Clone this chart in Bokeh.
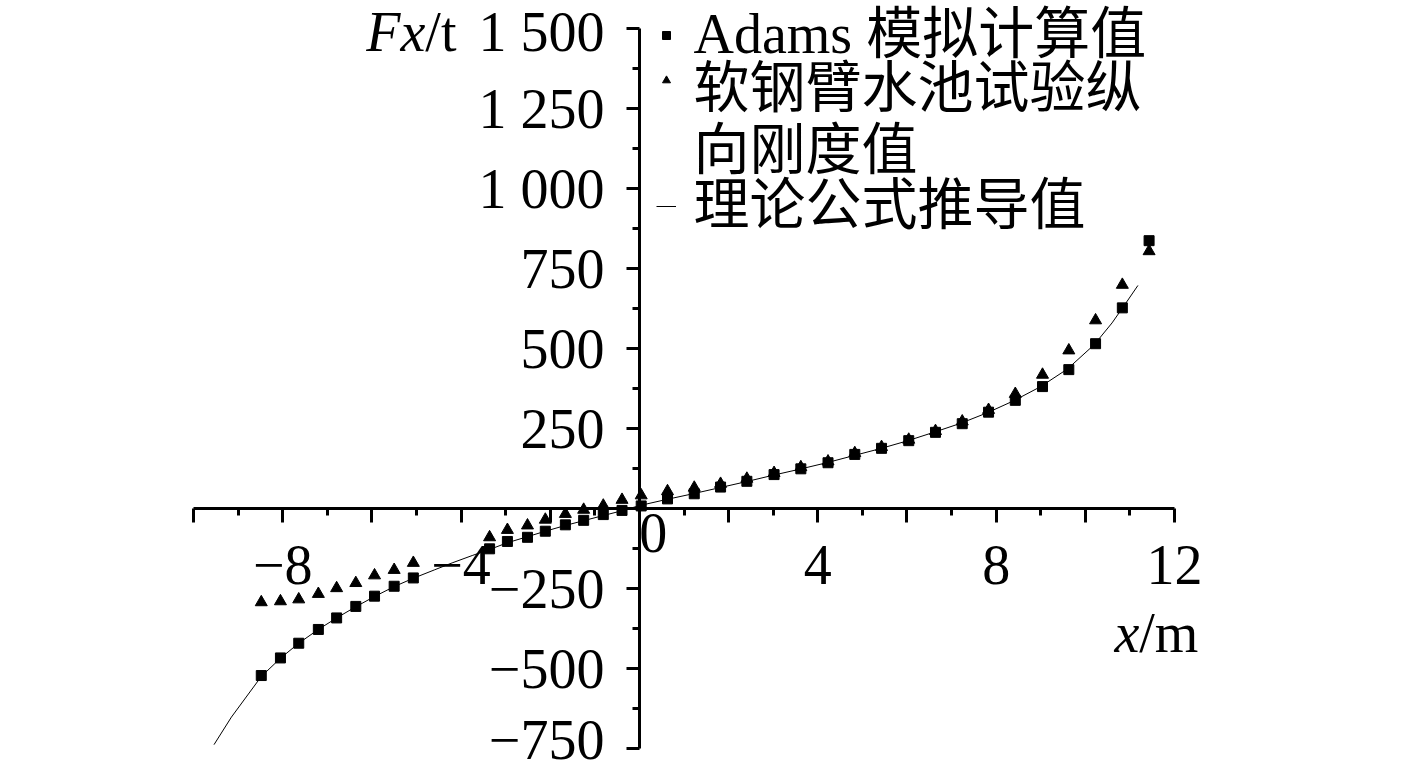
from bokeh.plotting import figure
from bokeh.models import (Range1d, FixedTicker, Legend, LegendItem, Label)
from bokeh.embed import file_html
from bokeh.resources import INLINE

# ---- data ----
x_points = [-8.48, -8.05, -7.64, -7.20, -6.79, -6.36, -5.94, -5.50, -5.07,
            -3.36, -2.96, -2.51, -2.11, -1.66, -1.25, -0.81, -0.39, 0.04,
            0.63, 1.23, 1.82, 2.41, 3.02, 3.62, 4.23, 4.83, 5.43, 6.04, 6.64,
            7.24, 7.83, 8.43, 9.04, 9.63, 10.23, 10.83, 11.43]
adams_y = [-522, -467, -421, -378, -342, -306, -274, -243, -217,
           -126, -103, -90, -71, -51, -37, -19, -6, 8,
           30, 46, 67, 85, 106, 124, 143, 169, 188, 212, 238,
           265, 301, 338, 381, 434, 515, 627, 837]
test_y = [-293, -290, -284, -267, -249, -233, -209, -192, -170,
          -90, -67, -53, -35, -17, -4, 9, 27, 41,
          54, 65, 77, 93, 111, 129, 147, 173, 192, 215, 242,
          272, 308, 358, 418, 494, 588, 699, 804]
theory_x = [-9.54, -9.15, -8.48, -8.05, -7.64, -7.20, -6.79, -6.36, -5.94, -5.50, -5.07,
            -4.6, -4.2, -3.75, -3.36, -2.96, -2.51, -2.11, -1.66, -1.25, -0.81, -0.39,
            0.0, 0.6, 1.2, 1.8, 2.4, 3.0, 3.6, 4.2, 4.8, 5.4, 6.0, 6.6, 7.2, 7.8, 8.4,
            9.0, 9.6, 10.2, 10.6, 10.9, 11.18]
theory_y = [-738, -652, -525, -468, -421, -378, -342, -307, -275, -244, -218,
            -192, -170, -147, -128, -107, -88, -71, -53, -38, -22, -7,
            9, 28, 46, 65, 84, 104, 123, 143, 165, 187, 211, 238, 266, 299, 337,
            381, 436, 512, 580, 640, 697]

# legend text lines (second series label wraps onto two lines)
legend_lines = ["Adams 模拟计算值", "软钢臂水池试验纵", "向刚度值", "理论公式推导值"]

x_bounds = (-10, 12)
y_bounds = (-750, 1500)
x_major = [-10, -8, -6, -4, -2, 0, 2, 4, 6, 8, 10, 12]
x_minor = [-9, -7, -5, -3, -1, 1, 3, 5, 7, 9, 11]
x_labels = {-10: "", -8: "−8", -6: "", -4: "−4", -2: "", 0: "", 2: "", 4: "4",
            6: "", 8: "8", 10: "", 12: "12"}
y_major = [-750, -500, -250, 0, 250, 500, 750, 1000, 1250, 1500]
y_minor = [-625, -375, -125, 125, 375, 625, 875, 1125, 1375]
y_labels = {-750: "−750", -500: "−500", -250: "−250", 0: "", 250: "250",
            500: "500", 750: "750", 1000: "1 000", 1250: "1 250", 1500: "1 500"}

LAT = "'Liberation Serif'"
MIXED = "'Liberation Serif', 'Noto Sans CJK SC'"
FS = "56px"

W, H = 1417, 770
# pixel placement of the axes box (-10..12, -750..1500) inside the canvas
AX_L, AX_R, AX_T, AX_B = 193, 1174, 28, 748
sx = (AX_R - AX_L) / (x_bounds[1] - x_bounds[0])
sy = (AX_B - AX_T) / (y_bounds[1] - y_bounds[0])
xr = Range1d(x_bounds[0] - AX_L / sx, x_bounds[1] + (W - AX_R) / sx)
yr = Range1d(y_bounds[0] - (H - AX_B) / sy, y_bounds[1] + AX_T / sy)

def px_to_x(px):
    return x_bounds[0] + (px - AX_L) / sx

def py_to_y(py):
    return y_bounds[1] - (py - AX_T) / sy

p = figure(width=W, height=H, output_backend="svg", toolbar_location=None,
           x_range=xr, y_range=yr, min_border=0)
p.outline_line_color = None
p.grid.visible = False
p.background_fill_color = "white"

ln = p.line(theory_x, theory_y, line_color="black", line_width=1)
sq = p.scatter(x_points, adams_y, marker="square", size=10, color="black")
tri = p.scatter(x_points, test_y, marker="triangle", size=12, color="black")

for ax in (p.xaxis[0], p.yaxis[0]):
    ax.fixed_location = 0
    ax.axis_line_width = 3
    ax.major_tick_line_width = 3
    ax.minor_tick_line_width = 3
    ax.major_tick_in = 0
    ax.minor_tick_in = 0
    ax.major_label_text_font = LAT
    ax.major_label_text_font_size = FS
    ax.major_label_text_color = "black"

p.xaxis[0].bounds = x_bounds
p.xaxis[0].ticker = FixedTicker(ticks=x_major, minor_ticks=x_minor)
p.xaxis[0].major_label_overrides = x_labels
p.xaxis[0].major_tick_out = 14
p.xaxis[0].minor_tick_out = 7
p.xaxis[0].major_label_standoff = 23

p.yaxis[0].bounds = y_bounds
p.yaxis[0].ticker = FixedTicker(ticks=y_major, minor_ticks=y_minor)
p.yaxis[0].major_label_overrides = y_labels
p.yaxis[0].major_tick_out = 13
p.yaxis[0].minor_tick_out = 7
p.yaxis[0].major_label_standoff = 22

# origin label and axis titles
lab = dict(text_font=LAT, text_font_size=FS, text_color="black")
p.add_layout(Label(x=0.31, y=-75, text="0", text_align="center", text_baseline="middle", **lab))
p.add_layout(Label(x=-4.80, y=1490, text="Fx", text_font_style="italic",
                   text_align="right", text_baseline="alphabetic", **lab))
p.add_layout(Label(x=-4.80, y=1490, text="/t", text_align="left",
                   text_baseline="alphabetic", **lab))
p.add_layout(Label(x=11.21, y=-390, text="x", text_font_style="italic",
                   text_align="right", text_baseline="alphabetic", **lab))
p.add_layout(Label(x=11.21, y=-390, text="/m", text_align="left",
                   text_baseline="alphabetic", **lab))

# legend: swatches via Legend, texts via labels
for text, py in zip(legend_lines, [33, 87, 149, 204]):
    p.add_layout(Label(x=px_to_x(693), y=py_to_y(py), text=text, text_font=MIXED,
                       text_font_size=FS, text_color="black",
                       text_align="left", text_baseline="middle"))

def swatch_legend(items, top_px, row_h):
    lg = Legend(items=items, location=(656, H - top_px - row_h * len(items)))
    lg.label_text_font_size = "1px"
    lg.label_height = row_h
    lg.glyph_width = 20
    lg.glyph_height = 20
    lg.label_standoff = 0
    lg.spacing = 0
    lg.padding = 0
    lg.margin = 0
    lg.border_line_color = None
    lg.background_fill_alpha = 0
    p.add_layout(lg)

swatch_legend([LegendItem(label=" ", renderers=[sq]),
               LegendItem(label=" ", renderers=[tri])], 12, 45)
swatch_legend([LegendItem(label=" ", renderers=[ln])], 196, 20)

open("out.html", "w").write(file_html(p, INLINE))
